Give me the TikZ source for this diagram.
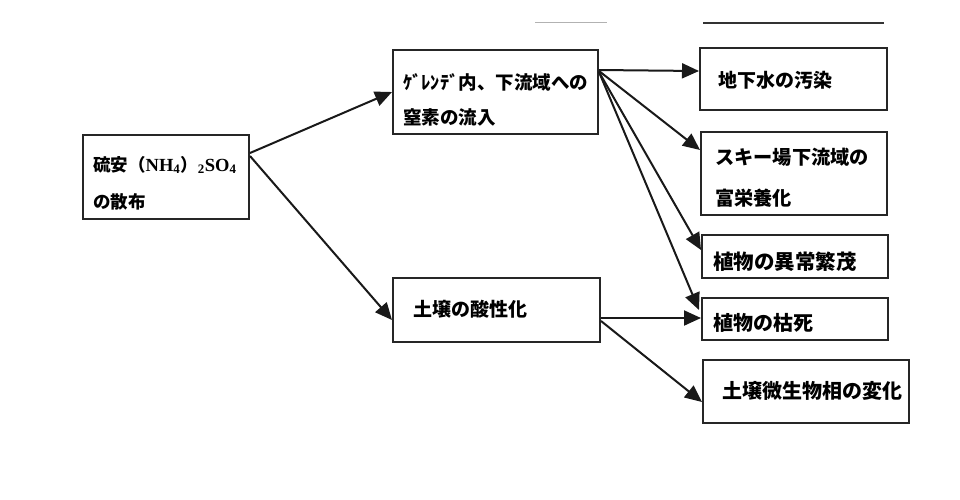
\documentclass[tikz,border=0pt]{standalone}
\usepackage{fontspec}
\setmainfont{Liberation Serif}
\newfontfamily\cjk{Noto Sans CJK JP}
\usetikzlibrary{arrows.meta}
\begin{document}
\begin{tikzpicture}[x=1pt,y=-1pt,
  box/.style={draw=black!85, line width=2pt, inner sep=0pt},
  txt/.style={anchor=west, inner sep=0pt, font=\cjk\bfseries},
  conn/.style={line width=2pt, draw=black!90, -{Triangle[length=17pt,width=15pt]}}
]
\fill[white] (0,0) rectangle (960,499);
\useasboundingbox (0,0) rectangle (960,499);

% stray rules at top
\draw[black!30, line width=1pt] (535,22) -- (607,22);
\draw[black!80, line width=1.4pt] (703,23) -- (884,23);

% boxes
\node[box, minimum width=166pt, minimum height=84pt] (A) at (166,177) {};
\node[box, minimum width=205pt, minimum height=84pt] (B) at (495.5,92) {};
\node[box, minimum width=187pt, minimum height=62pt] (C) at (793.5,79) {};
\node[box, minimum width=186pt, minimum height=83pt] (D) at (794,173.5) {};
\node[box, minimum width=186pt, minimum height=43pt] (F) at (795,256.5) {};
\node[box, minimum width=186pt, minimum height=42pt] (G) at (795,319) {};
\node[box, minimum width=206pt, minimum height=63pt] (H) at (806,391.5) {};
\node[box, minimum width=207pt, minimum height=64pt] (E) at (496.5,310) {};

% texts
\node[txt, font=\cjk\bfseries\fontsize{17.5}{20}\selectfont] (A1) at (93,165)
  {硫安（{\rmfamily\bfseries\fontsize{18.5}{20}\selectfont NH\textsubscript{4}}）{\rmfamily\bfseries\fontsize{18.5}{20}\selectfont\textsubscript{2}SO\textsubscript{4}}};
\node[txt, font=\cjk\bfseries\fontsize{17.5}{20}\selectfont] (A2) at (93,202) {の散布};
\node[txt, font=\cjk\bfseries\fontsize{18.5}{20}\selectfont] (B1) at (403,82) {ｹﾞﾚﾝﾃﾞ内、下流域への};
\node[txt, font=\cjk\bfseries\fontsize{18.5}{20}\selectfont] (B2) at (403,117) {窒素の流入};
\node[txt, font=\cjk\bfseries\fontsize{19}{20}\selectfont] (C1) at (718,80) {地下水の汚染};
\node[txt, font=\cjk\bfseries\fontsize{19.2}{20}\selectfont] (D1) at (715,157) {スキー場下流域の};
\node[txt, font=\cjk\bfseries\fontsize{19.2}{20}\selectfont] (D2) at (715,198) {富栄養化};
\node[txt, font=\cjk\bfseries\fontsize{20.5}{20}\selectfont] (F1) at (713,262) {植物の異常繁茂};
\node[txt, font=\cjk\bfseries\fontsize{20}{20}\selectfont] (G1) at (713,323) {植物の枯死};
\node[txt, font=\cjk\bfseries\fontsize{20}{20}\selectfont] (H1) at (722,391) {土壌微生物相の変化};
\node[txt, font=\cjk\bfseries\fontsize{19}{20}\selectfont] (E1) at (413,309) {土壌の酸性化};

% connectors
\draw[conn] ([yshift=24pt]A.east) -- (B.west);
\draw[conn] ([yshift=21pt]A.east) -- ([yshift=-10pt]E.west);
\draw[conn] ([yshift=22pt]B.east) -- ([yshift=8pt]C.west);
\draw[conn] ([yshift=21pt]B.east) -- ([yshift=23.5pt]D.west);
\draw[conn] ([yshift=20pt]B.east) -- ([yshift=6.5pt]F.west);
\draw[conn] ([yshift=20pt]B.east) -- ([xshift=-2pt,yshift=9pt]G.west);
\draw[conn] ([yshift=-8pt]E.east) -- ([yshift=1pt]G.west);
\draw[conn] ([yshift=-11pt]E.east) -- ([yshift=-10.5pt]H.west);
\end{tikzpicture}
\end{document}
